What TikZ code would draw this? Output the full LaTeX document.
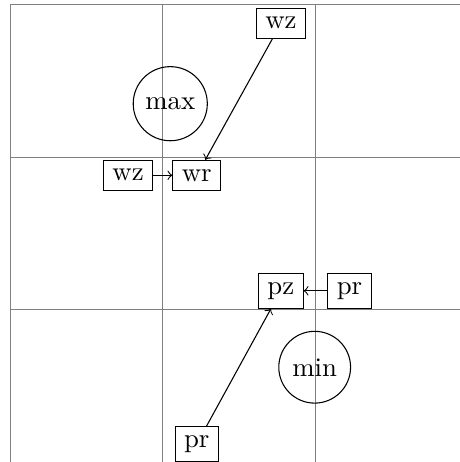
\documentclass[tikz,border=0pt]{standalone}
\begin{document}
\begin{tikzpicture}[
  box/.style={draw,rectangle},
  circ/.style={draw,circle},
  conn/.style={->}
]
\useasboundingbox (-0.131,0.003) rectangle (5.889,6.062);
\draw[help lines] (0,0) grid[step=2] (6,6);
\node[box] (wzt) at (3.554,5.756) {wz};
\node[box] (wr) at (2.449,3.763) {wr};
\node[box] (wzl) at (1.548,3.763) {wz};
\node[circ] (max) at (2.102,4.702) {max};
\node[box] (pz) at (3.551,2.248) {pz};
\node[box] (prr) at (4.452,2.248) {pr};
\node[circ] (min) at (3.996,1.246) {min};
\node[box] (prb) at (2.449,0.239) {pr};
\draw[conn] (wzt) -- (wr);
\draw[conn] (wzl) -- (wr);
\draw[conn] (prr) -- (pz);
\draw[conn] (prb) -- (pz);
\end{tikzpicture}
\end{document}
